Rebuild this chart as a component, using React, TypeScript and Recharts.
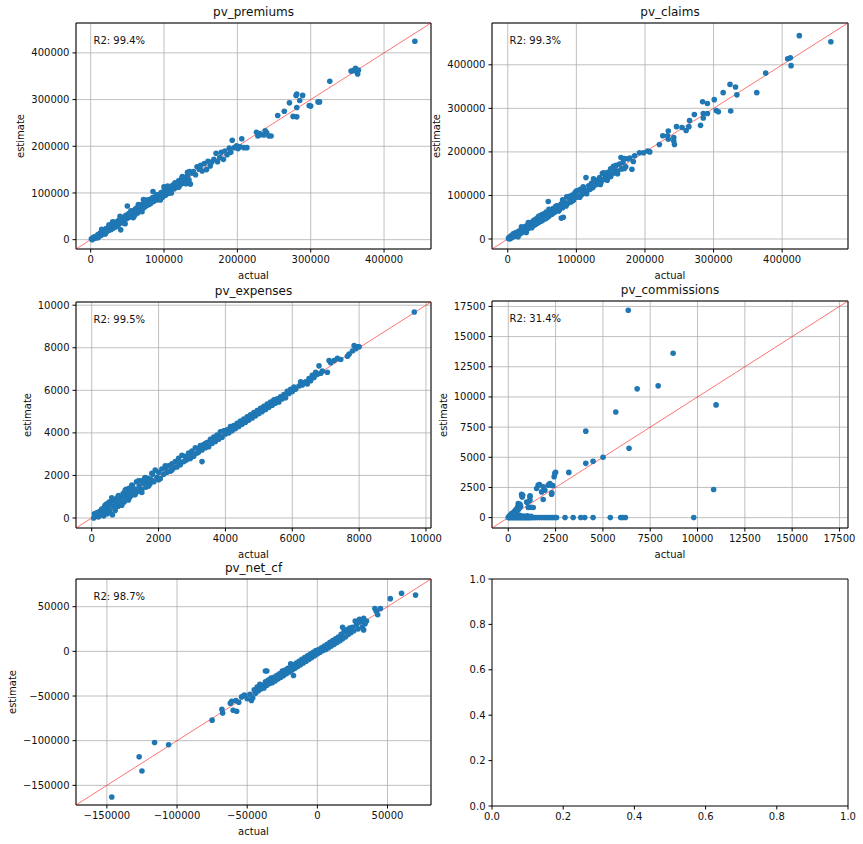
import React from 'react';
import { ScatterChart, Scatter, XAxis, YAxis, CartesianGrid, ReferenceLine, ReferenceArea } from 'recharts';

type Pt = [number, number];

// [actual, estimate], in thousands
const premiumsK: Pt[] = [
  [1,2],[2,0],[3,4],[4,2],[5,6],[6,3],[7,5],[8,8],[9,5],[10,11],[11,7],[12,10],[13,14],[14,9],[15,12],[16,17],[17,12],[18,20],[19,15],[20,18],
  [21,24],[22,17],[23,21],[24,26],[25,20],[26,24],[27,30],[28,22],[29,27],[30,33],[31,25],[32,30],[33,37],[34,28],[35,32],[36,38],[37,30],[38,41],[39,34],[40,36],
  [41,21],[42,44],[43,38],[44,37],[45,48],[46,40],[47,44],[48,52],[49,45],[50,72],[51,47],[52,56],[53,49],[54,58],[55,50],[56,54],[57,61],[58,47],[59,56],[60,64],
  [61,57],[62,67],[63,60],[64,57],[65,69],[66,62],[67,71],[68,64],[69,74],[70,66],[71,77],[72,86],[73,69],[74,80],[75,72],[76,85],[77,73],[78,82],[79,76],[80,86],
  [82,78],[84,89],[85,103],[86,82],[88,92],[90,85],[92,96],[94,89],[96,101],[98,91],[100,113],[100,104],[102,95],[104,108],[106,99],[108,112],[110,105],[112,117],
  [114,109],[116,120],[118,113],[120,126],[122,117],[124,131],[126,121],[128,133],[130,124],[132,137],[134,128],[135,146],[136,119],[138,143],[140,146],[143,139],
  [145,156],[148,151],[150,159],[152,147],[155,163],[158,150],[160,168],[163,158],[165,166],[168,172],[171,185],[173,167],[176,176],[178,187],[181,172],[183,190],
  [186,182],[189,196],[191,187],[193,213],[196,197],[199,201],[201,195],[204,199],[206,216],[209,197],[213,197],
  [10,4],[15,22],[20,12],[25,32],[30,38],[35,28],[40,50],[45,36],[47,34],[55,62],[60,52],[65,75],[70,60],[75,80],[80,76],[85,90],[90,96],[95,85],
  [105,115],[110,100],[115,122],[120,112],[125,135],[130,120],[132,144],[133,125],[134,121],
  [226,230],[228,222],[230,227],[232,225],[236,224],[238,233],[240,229],[243,222],[246,222],
  [255,266],[264,275],[271,293],[276,264],[281,263],[280,309],[281,312],[281,283],[285,298],[289,309],[298,287],[300,286],[310,295],[312,295],
  [326,339],[355,361],[358,362],[361,367],[363,360],[364,355],[365,363],[442,425],
];

const claimsK: Pt[] = [
  [1,1],[2,4],[3,0],[4,6],[5,2],[6,8],[7,4],[8,12],[9,6],[10,10],[11,14],[12,7],[13,11],[14,16],[15,9],[16,14],[17,19],[18,12],[19,17],[20,23],
  [21,15],[22,20],[23,26],[24,18],[25,23],[26,29],[27,15],[28,25],[29,32],[30,24],[31,28],[32,36],[33,27],[34,31],[35,39],[36,30],[37,34],[38,43],[39,32],[40,37],
  [41,46],[42,35],[43,40],[44,49],[45,38],[46,43],[47,53],[48,41],[49,47],[50,56],[51,44],[52,50],[53,58],[54,46],[55,53],[56,62],[57,49],[58,55],[59,86],[60,52],
  [62,64],[64,57],[66,70],[68,61],[70,67],[72,76],[74,64],[76,71],[78,48],[78,81],[80,72],[81,50],[82,86],[84,78],[86,97],[88,82],[90,92],[92,85],[94,101],[96,90],
  [98,106],[100,96],[102,111],[104,98],[106,114],[108,102],[110,116],[112,105],[114,141],[116,112],[118,122],[120,114],[122,128],[124,118],[126,131],[128,124],
  [130,135],[132,127],[134,141],[136,131],[138,151],[140,137],[142,147],[144,140],[146,153],[148,144],[150,161],[152,149],[154,167],[156,152],[158,169],[160,156],
  [163,172],[165,187],[166,161],[168,176],[170,185],[172,166],[175,184],[178,186],[181,160],[183,178],
  [15,5],[20,28],[30,38],[35,26],[45,52],[50,42],[55,47],[60,68],[65,58],[70,75],[75,66],[80,90],[85,76],[90,98],[95,88],[100,110],[105,96],[110,120],
  [115,104],[125,138],[135,125],[140,152],[145,135],[150,143],[155,162],[160,150],[170,162],
  [185,191],[192,198],[198,198],[204,202],[207,200],
  [221,217],[226,237],[233,237],[234,229],[234,248],[242,233],[242,225],[243,217],[246,258],[254,256],[260,249],[264,258],[265,272],[272,286],[281,261],
  [284,315],[285,288],[285,278],[291,311],[291,288],[301,320],[304,295],[307,292],[314,336],[324,355],[325,294],[332,349],[334,331],[363,336],[376,381],
  [408,414],[412,416],[413,398],[425,467],[471,453],
];

const expenses: Pt[] = [
  [60,0],[80,200],[120,100],[150,250],[200,50],[230,300],[260,150],[300,420],[330,200],[360,100],[380,500],[410,300],[440,650],[460,200],[490,450],
  [520,750],[540,350],[570,600],[600,800],[620,150],[650,550],[680,850],[700,450],[730,700],[760,950],[790,550],[820,800],[850,1000],[880,650],[910,950],
  [940,1150],[970,750],[1000,1050],[1030,1350],[1060,900],[1090,1150],[1120,1400],[1150,1000],[1180,1250],[1220,1500],[1260,1100],[1300,1350],[1340,1700],
  [1380,1250],[1420,1500],[1460,1750],[1500,1350],[1540,1650],[1580,1850],[1620,1450],[1660,1700],[1700,1850],[1740,1600],[1780,1800],[1820,2050],[1860,1700],
  [1900,2250],[1950,1900],[2000,2150],[2050,1850],[2100,2300],[2150,2050],[2200,2350],[2250,2150],[2300,2450],[2350,2200],[2400,2550],[2450,2350],[2500,2650],
  [2550,2400],[2600,2800],[2650,2500],[2700,2950],[2750,2650],[2800,2900],[2850,2750],[2900,3050],[2950,2800],[3000,3150],[3050,2900],[3100,3300],[3150,3050],
  [3200,3250],[3300,2650],[3250,3400],[3300,3200],[3350,3450],[3400,3300],[3450,3550],[3500,3350],[3550,3700],[3600,3500],[3650,3800],[3700,3600],[3750,3900],
  [3800,3700],[3850,4050],[3900,3800],[3950,4100],[4000,3950],[4050,4150],[4100,4000],[4150,4300],[4200,4100],[4250,4350],[4300,4200],[4350,4450],[4400,4300],
  [4450,4550],[4500,4400],[4550,4650],[4600,4500],[4650,4750],[4700,4600],[4750,4850],[4800,4700],[4850,4950],[4900,4800],[4950,5050],[5000,4900],[5050,5150],
  [5100,5000],[5150,5250],[5200,5100],[5250,5350],[5300,5200],[5350,5450],[5400,5300],[5450,5550],[5500,5400],[5550,5600],[5600,5450],[5650,5700],[5700,5600],
  [5750,5800],[5800,5650],[5850,5950],[5900,5850],[5950,6050],[6000,5950],[6050,6150],[6100,6050],[6200,6200],[6250,6400],[6300,6250],[6400,6400],[6450,6300],
  [6500,6550],[6550,6450],[6600,6700],[6650,6600],[6700,6850],[6750,6750],[6800,7150],[6850,6800],[6900,6900],[7050,6850],[7100,7400],[7150,7300],[7250,7400],
  [7350,7500],[7450,7450],[7650,7600],[7700,7700],[7800,7850],[7850,8100],[7900,7950],[7950,8050],[8000,8050],[9650,9680],
  [300,150],[400,600],[500,250],[600,950],[700,350],[800,1050],[900,600],[1000,1300],[1100,850],[1200,1550],[1300,1100],[1400,1750],[1500,1200],[1600,1900],
  [1700,1500],[1800,2100],[2000,1800],[2200,2450],[2400,2250],[2600,2650],[2800,2700],[3000,3000],[3200,3100],[3400,3500],[3600,3650],[3800,3850],
  [4000,4100],[4200,4250],[4400,4450],
];

const commissions: Pt[] = [
  [0,0],[50,0],[100,0],[150,0],[200,0],[250,0],[300,0],[350,0],[400,0],[450,0],[500,0],[550,0],[600,0],[650,0],[700,0],[750,0],[800,0],[850,0],[900,0],
  [950,0],[1000,0],[1050,0],[1100,0],[1150,0],[1200,0],[1280,0],[1360,0],[1450,0],[1550,0],[1650,0],[1750,0],[1850,0],[1950,0],[2050,0],[2150,0],[2250,0],
  [2350,0],[2450,0],[2550,0],[3000,0],[3430,0],[3830,0],[4040,0],[4480,0],[5390,0],[5940,0],[6050,0],[6190,0],[9800,0],
  [100,120],[250,150],[300,60],[400,100],[600,200],[800,120],[1000,150],[1200,100],
  [20,50],[50,100],[80,30],[100,200],[130,80],[150,300],[180,150],[200,350],[230,100],[260,400],[300,250],[330,500],[353,550],[380,300],[400,650],[430,450],
  [460,750],[495,608],[500,900],[527,1166],[540,700],[564,883],[580,1050],[600,800],[620,1100],[650,950],[706,1941],[720,1800],[738,1716],[760,1850],
  [970,1300],[1000,1250],[1055,833],[1143,1716],[1143,1441],[1150,1800],[1200,850],[1318,833],[1497,2415],[1581,2690],[1650,2750],[1760,2132],[1845,1499],
  [1845,2549],[1934,2274],[2108,2690],[2198,2832],[2250,2700],[2287,1941],[2300,2050],[2350,2650],[2424,3382],[2461,3665],[2500,3750],[3199,3748],
  [4095,4498],[4480,4665],[5007,4998],[6380,5750],[4095,7164],[5680,8750],[6810,10670],[7920,10920],[8710,13620],[6340,17180],[10980,9340],[10850,2330],
];

const netCfK: Pt[] = [
  [-146.5,-163],[-127,-118],[-125,-134],[-116,-102],[-106,-104.5],[-75,-77],
  [-68,-65],[-67.5,-69],[-62,-58],[-61,-56],[-60,-66],[-58,-55],[-57.5,-67],[-56,-57],[-54,-51],[-52,-49],[-50,-53],[-48,-48],[-47,-55],[-46,-52],[-44,-45],
  [-45,-43],[-44,-47],[-43,-40],[-42,-44],[-41,-37],[-40,-42],[-39,-38],[-38,-41],[-37,-34],[-37,-22],[-36,-22],[-36,-38],[-35,-32],[-34,-36],[-33,-30],
  [-32,-35],[-31,-29],[-30,-33],[-29,-27],[-28,-31],[-27,-25],[-26,-29],[-25,-22],[-24,-27],[-23,-21],[-22,-25],[-21,-19],[-20,-23],[-19,-14],[-19,-18],
  [-18,-21],[-17,-15],[-17,-27],[-16,-19],[-15,-13],[-14,-17],[-13,-11],[-12,-15],[-11,-9],[-10,-13],[-9,-7],[-8,-11],[-7,-5],[-6,-9],[-5,-3],[-4,-7],
  [-3,-1],[-2,-5],[-1,1],[0,-3],[1,2],[2,-1],[3,4],[4,1],[5,6],[6,2],[7,8],[8,4],[9,10],[10,6],[11,12],[12,8],[13,14],[14,10],[15,16],[16,12],[17,19],
  [18,27],[18,14],[19,22],[20,16],[21,24],[22,19],[23,26],[24,21],[25,27],[26,23],[27,34],[28,30],[29,25],[30,36],[31,33],[32,27],[33,37],[33,24],[34,31],
  [35,34],[41,48],[42,45],[43,41],[45,48],[52,59],[60,65],[70,63],
];

const toRows = (pts: Pt[], unit: number) => pts.map(([a, e]) => ({ actual: a * unit, estimate: e * unit }));

const FONT = '"DejaVu Sans", sans-serif';
const YW = 70, MT = 10, XH = 30, MB = 5, MR = 20;

const fmtNum = (v: number) => (v < 0 ? '\u2212' + Math.abs(v) : String(v));

type Box = { x0: number; y0: number; x1: number; y1: number };

const Dot = (p: any) => <circle cx={p.cx} cy={p.cy} r={2.8} fill="#1f77b4" />;

function Panel(props: {
  title?: string; r2?: string; rows: any[]; lo: number; hi: number; ticks: number[];
  box: Box; yLabelX?: number; fmt?: (v: number) => string; empty?: boolean;
}) {
  const { title, r2, rows, lo, hi, ticks, box, yLabelX, fmt = fmtNum, empty } = props;
  const w = box.x1 - box.x0;
  const h = box.y1 - box.y0;
  const tickStyle = { fontSize: 10, fill: '#111', fontFamily: FONT };
  const text = { position: 'absolute' as const, fontFamily: FONT, color: '#111', whiteSpace: 'nowrap' as const };
  return (
    <>
      <div style={{ position: 'absolute', left: box.x0 - YW, top: box.y0 - MT }}>
        <ScatterChart width={w + YW + MR} height={h + MT + XH + MB} margin={{ top: MT, right: MR, bottom: MB, left: 0 }}>
          {!empty && <CartesianGrid stroke="#b0b0b0" strokeWidth={0.8} />}
          <XAxis type="number" dataKey="actual" domain={[lo, hi]} ticks={ticks} allowDataOverflow interval={0}
            height={XH} tick={tickStyle} tickSize={3.5} tickMargin={3} axisLine={false} tickLine={{ stroke: '#000' }} tickFormatter={fmt} />
          <YAxis type="number" dataKey="estimate" domain={[lo, hi]} ticks={ticks} allowDataOverflow interval={0}
            width={YW} tick={tickStyle} tickSize={3.5} tickMargin={3} axisLine={false} tickLine={{ stroke: '#000' }} tickFormatter={fmt} />
          <Scatter data={rows} shape={Dot} isAnimationActive={false} />
          {!empty && <ReferenceLine segment={[{ x: lo, y: lo }, { x: hi, y: hi }]} stroke="#ff0000" strokeOpacity={0.55} strokeWidth={1} />}
          <ReferenceArea x1={lo} x2={hi} y1={lo} y2={hi} fill="none" fillOpacity={0} stroke="#000" strokeWidth={1} strokeOpacity={1} />
        </ScatterChart>
      </div>
      {title && (
        <div style={{ ...text, fontSize: 12, left: box.x0 + w / 2, top: box.y0 - 11, transform: 'translate(-50%, -50%)' }}>{title}</div>
      )}
      {r2 && (
        <div style={{ ...text, fontSize: 10, left: box.x0 + 17.5, top: box.y0 + 17, transform: 'translate(0, -50%)' }}>{r2}</div>
      )}
      {!empty && (
        <div style={{ ...text, fontSize: 10, left: box.x0 + w / 2, top: box.y1 + 26, transform: 'translate(-50%, -50%)' }}>actual</div>
      )}
      {!empty && yLabelX !== undefined && (
        <div style={{ ...text, fontSize: 10, left: yLabelX, top: box.y0 + h / 2, transform: 'translate(-50%, -50%) rotate(-90deg)' }}>estimate</div>
      )}
    </>
  );
}

export default function App() {
  return (
    <div style={{ position: 'absolute', left: 0, top: 0, width: 863, height: 844, background: '#fff', overflow: 'hidden' }}>
      <Panel title="pv_premiums" r2="R2: 99.4%" rows={toRows(premiumsK, 1000)} lo={-20000} hi={464000}
        ticks={[0, 100000, 200000, 300000, 400000]} box={{ x0: 76, y0: 23, x1: 431, y1: 249 }} yLabelX={20} />
      <Panel title="pv_claims" r2="R2: 99.3%" rows={toRows(claimsK, 1000)} lo={-23000} hi={496000}
        ticks={[0, 100000, 200000, 300000, 400000]} box={{ x0: 492, y0: 23, x1: 848, y1: 249 }} yLabelX={436} />
      <Panel title="pv_expenses" r2="R2: 99.5%" rows={toRows(expenses, 1)} lo={-470} hi={10150}
        ticks={[0, 2000, 4000, 6000, 8000, 10000]} box={{ x0: 76, y0: 302, x1: 431, y1: 528 }} yLabelX={27} />
      <Panel title="pv_commissions" r2="R2: 31.4%" rows={toRows(commissions, 1)} lo={-860} hi={17950}
        ticks={[0, 2500, 5000, 7500, 10000, 12500, 15000, 17500]} box={{ x0: 492, y0: 301, x1: 848, y1: 528 }} yLabelX={443} />
      <Panel title="pv_net_cf" r2="R2: 98.7%" rows={toRows(netCfK, 1000)} lo={-172000} hi={81000}
        ticks={[-150000, -100000, -50000, 0, 50000]} box={{ x0: 76, y0: 579, x1: 431, y1: 805 }} yLabelX={12} />
      <Panel rows={[]} lo={0} hi={1} ticks={[0, 0.2, 0.4, 0.6, 0.8, 1]} fmt={(v) => v.toFixed(1)} empty
        box={{ x0: 492, y0: 579, x1: 848, y1: 806 }} />
    </div>
  );
}
